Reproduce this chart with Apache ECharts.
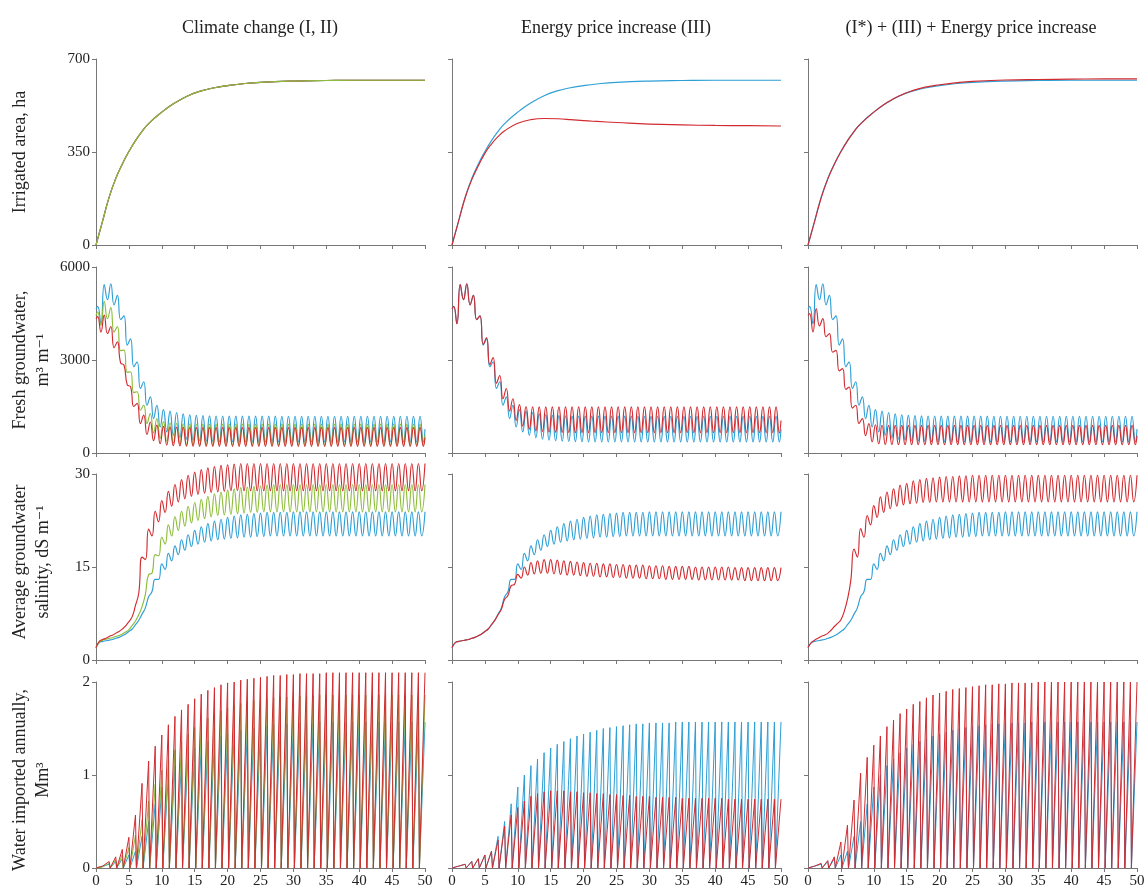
<!DOCTYPE html>
<html><head><meta charset="utf-8">
<script src="https://cdn.jsdelivr.net/npm/echarts/dist/echarts.min.js"></script>
<style>html,body{margin:0;padding:0;background:#fff}#c{width:1148px;height:892px}</style>
</head><body><div id="c"></div>
<script>
// ---------- labels ----------
const colTitles = ['Climate change (I, II)', 'Energy price increase (III)', '(I*) + (III) + Energy price increase'];
const rowNames = ['Irrigated area, ha', 'Fresh groundwater,\nm\u00b3 m\u207b\u00b9', 'Average groundwater\nsalinity, dS m\u207b\u00b9', 'Water imported annually,\nMm\u00b3'];
const yMaxes = [700, 6000, 30, 2];
const yIntervals = [350, 3000, 15, 1];
const xMax = 50, xInterval = 5;

// ---------- row 1: irrigated area (ha) ----------
const areaYears    = [0,1,2,3,4,5,6,7,8,10,12,14,16,18,20,22,25,30,35,40,45,50];
const areaBase     = [0,90,180,250,305,352,393,428,457,500,535,562,580,592,600,606,612,617,619,620,620,620];
const areaClimate  = [0,90,180,250,305,352,393,428,457,500,535,562,580,592,600,606,612,617,619,620,620,620];
const areaEnergy   = [0,90,178,245,298,345,380,408,430,458,472,476,475,472,468,465,461,455,452,450,449,448];
const areaCombined = [0,88,177,248,304,351,392,427,456,500,536,563,582,595,603,609,616,621,623,624,625,625];

// ---------- row 2: fresh groundwater (peaks at year+0.25, troughs at year+0.75) ----------
const fgBaseEnds = [4650, 770];
const fgBaseHi = [4730,5430,5460,5085,4425,3680,2945,2300,1810,1540,
  1400,1350,1306,1263,1235,1215,1205,1198,1194,1192,
  1190,1190,1189,1189,1188,1188,1188,1188,1187,1187,
  1187,1187,1187,1187,1187,1187,1187,1187,1187,1187,
  1187,1187,1187,1187,1187,1187,1187,1187,1187,1187];
const fgBaseLo = [4170,4950,4780,4300,3480,2780,2080,1540,1110,840,
  680,570,490,445,415,395,382,372,366,362,
  360,358,357,356,356,355,355,355,355,355,
  355,355,355,355,355,355,355,355,355,355,
  355,355,355,355,355,355,355,355,355,355];
const fgClimIEnds = [4440, 590];
const fgClimIHi = [4550,4890,4690,4080,3320,2620,1975,1545,1275,1110,
  1010,975,955,945,940,935,932,930,930,930,
  930,930,930,930,930,930,930,930,930,930,
  930,930,930,930,930,930,930,930,930,930,
  930,930,930,930,930,930,930,930,930,930];
const fgClimILo = [4120,4330,3900,3300,2600,1950,1380,950,650,480,
  380,320,290,272,262,256,252,250,250,250,
  250,250,250,250,250,250,250,250,250,250,
  250,250,250,250,250,250,250,250,250,250,
  250,250,250,250,250,250,250,250,250,250];
const fgClimIIEnds = [4330, 500];
const fgClimIIHi = [4400,4450,4080,3590,2840,2140,1600,1220,1000,900,
  860,840,830,825,822,820,820,820,820,820,
  820,820,820,820,820,820,820,820,820,820,
  820,820,820,820,820,820,820,820,820,820,
  820,820,820,820,820,820,820,820,820,820];
const fgClimIILo = [3900,3850,3400,2900,2200,1500,950,600,400,300,
  255,235,225,220,218,216,215,215,215,215,
  215,215,215,215,215,215,215,215,215,215,
  215,215,215,215,215,215,215,215,215,215,
  215,215,215,215,215,215,215,215,215,215];
const fgEnergyEnds = [4650, 1050];
const fgEnergyHi = [4730,5430,5460,5085,4425,3720,3080,2500,2080,1750,
  1560,1500,1492,1490,1490,1490,1490,1490,1490,1490,
  1490,1490,1490,1490,1490,1490,1490,1490,1490,1490,
  1490,1490,1490,1490,1490,1490,1490,1490,1490,1490,
  1490,1490,1490,1490,1490,1490,1490,1490,1490,1490];
const fgEnergyLo = [4170,4950,4780,4300,3500,2850,2250,1750,1350,1050,
  870,770,715,690,675,665,660,655,650,650,
  650,650,650,650,650,650,650,650,650,650,
  650,650,650,650,650,650,650,650,650,650,
  650,650,650,650,650,650,650,650,650,650];
const fgCombEnds = [4440, 560];
const fgCombHi = [4495,4656,4333,3850,3312,2720,2130,1540,1110,950,
  910,895,890,890,890,890,890,890,890,890,
  890,890,890,890,890,890,890,890,890,890,
  890,890,890,890,890,890,890,890,890,890,
  890,890,890,890,890,890,890,890,890,890];
const fgCombLo = [3904,4100,3750,3250,2650,2050,1450,950,560,360,
  295,275,268,265,265,265,265,265,265,265,
  265,265,265,265,265,265,265,265,265,265,
  265,265,265,265,265,265,265,265,265,265,
  265,265,265,265,265,265,265,265,265,265];

// ---------- row 3: salinity (troughs at year+0.5, peaks at year+1) ----------
const salStart = 2.0;
const salBaseLo = [2.8,3.1,3.3,3.65,4.2,5.0,6.4,8.4,11.0,13.0,
  14.6,16.0,17.0,17.7,18.3,18.7,19.0,19.2,19.4,19.5,
  19.6,19.7,19.8,19.8,19.9,19.9,20.0,20.0,20.0,20.0,
  20.0,20.0,20.0,20.0,20.0,20.0,20.0,20.0,20.0,20.0,
  20.0,20.0,20.0,20.0,20.0,20.0,20.0,20.0,20.0,20.0];
const salBaseHi = [3.0,3.2,3.5,3.9,4.6,5.7,7.4,10.2,13.0,15.5,
  17.2,18.4,19.4,20.2,20.9,21.5,22.0,22.4,22.7,23.0,
  23.2,23.4,23.5,23.6,23.7,23.8,23.8,23.8,23.8,23.9,
  23.9,23.9,23.9,23.9,23.9,23.9,23.9,23.9,23.9,23.9,
  23.9,23.9,23.9,23.9,23.9,23.9,23.9,23.9,23.9,23.9];
const salClimILo = [2.9,3.35,3.6,3.95,4.5,5.6,7.3,10.6,14.0,16.8,
  18.7,20.0,20.9,21.6,22.1,22.5,22.8,23.1,23.3,23.4,
  23.5,23.6,23.7,23.8,23.8,23.9,23.9,23.9,23.9,23.9,
  23.9,23.9,23.9,23.9,23.9,23.9,23.9,23.9,23.9,23.9,
  23.9,23.9,23.9,23.9,23.9,23.9,23.9,23.9,23.9,23.9];
const salClimIHi = [3.2,3.5,3.8,4.2,4.9,6.3,8.6,13.8,17.0,19.8,
  21.8,23.1,24.0,24.8,25.4,25.9,26.4,26.8,27.1,27.4,
  27.6,27.8,27.9,28.0,28.1,28.2,28.3,28.3,28.3,28.3,
  28.3,28.3,28.3,28.3,28.3,28.3,28.3,28.3,28.3,28.3,
  28.3,28.3,28.3,28.3,28.3,28.3,28.3,28.3,28.3,28.3];
const salClimIILo = [3.0,3.5,4.0,4.6,5.5,7.0,10.8,16.2,20.0,22.3,
  23.8,24.8,25.5,26.0,26.4,26.7,26.9,27.0,27.1,27.2,
  27.3,27.3,27.3,27.3,27.3,27.3,27.3,27.3,27.3,27.3,
  27.3,27.3,27.3,27.3,27.3,27.3,27.3,27.3,27.3,27.3,
  27.3,27.3,27.3,27.3,27.3,27.3,27.3,27.3,27.3,27.3];
const salClimIIHi = [3.3,3.8,4.3,5.0,6.2,8.8,16.6,21.1,24.0,25.7,
  27.2,28.3,29.1,29.8,30.3,30.7,31.0,31.2,31.4,31.5,
  31.6,31.7,31.7,31.7,31.7,31.7,31.7,31.7,31.7,31.7,
  31.7,31.7,31.7,31.7,31.7,31.7,31.7,31.7,31.7,31.7,
  31.7,31.7,31.7,31.7,31.7,31.7,31.7,31.7,31.7,31.7];
const salEnergyLo = [2.8,3.1,3.3,3.65,4.2,5.0,6.4,8.2,10.4,12.2,
  13.2,13.7,13.9,14.0,14.0,13.9,13.8,13.7,13.7,13.6,
  13.5,13.5,13.4,13.4,13.3,13.3,13.2,13.2,13.2,13.1,
  13.1,13.1,13.0,13.0,13.0,13.0,13.0,12.9,12.9,12.9,
  12.9,12.9,12.9,12.9,12.8,12.8,12.8,12.8,12.8,12.8];
const salEnergyHi = [3.0,3.2,3.5,3.9,4.6,5.7,7.3,9.8,12.0,13.8,
  15.0,15.7,16.0,16.2,16.2,16.1,16.0,15.9,15.8,15.7,
  15.6,15.6,15.5,15.5,15.4,15.4,15.3,15.3,15.3,15.2,
  15.2,15.2,15.1,15.1,15.1,15.1,15.0,15.0,15.0,15.0,
  15.0,15.0,14.9,14.9,14.9,14.9,14.9,14.9,14.9,14.9];
const salCombLo = [2.8,3.5,4.0,4.8,5.9,7.8,12.8,16.6,19.8,21.8,
  23.0,23.8,24.4,24.8,25.0,25.2,25.3,25.4,25.4,25.5,
  25.5,25.5,25.5,25.5,25.5,25.5,25.5,25.5,25.5,25.5,
  25.5,25.5,25.5,25.5,25.5,25.5,25.5,25.5,25.5,25.5,
  25.5,25.5,25.5,25.5,25.5,25.5,25.5,25.5,25.5,25.5];
const salCombHi = [3.2,3.8,4.3,5.4,6.5,9.8,17.9,21.2,23.3,24.9,
  26.3,27.1,27.6,28.2,28.5,28.9,29.1,29.3,29.4,29.5,
  29.6,29.6,29.7,29.7,29.8,29.8,29.8,29.8,29.8,29.8,
  29.8,29.8,29.8,29.8,29.8,29.8,29.8,29.8,29.8,29.8,
  29.8,29.8,29.8,29.8,29.8,29.8,29.8,29.8,29.8,29.8];

// ---------- row 4: water imported (annual peak, years 1..50) ----------
const wiBase = [0.02,0.04,0.07,0.10,0.14,0.18,0.34,0.50,0.69,0.87,
  1.00,1.10,1.17,1.24,1.29,1.33,1.36,1.39,1.42,1.44,
  1.46,1.48,1.50,1.51,1.52,1.53,1.54,1.55,1.55,1.56,
  1.56,1.56,1.56,1.57,1.57,1.57,1.57,1.57,1.57,1.57,
  1.57,1.57,1.57,1.57,1.57,1.57,1.57,1.57,1.57,1.57];
const wiClimI = [0.01,0.05,0.09,0.14,0.22,0.35,0.52,0.72,0.90,1.05,
  1.17,1.27,1.36,1.44,1.51,1.56,1.61,1.65,1.69,1.72,
  1.75,1.77,1.79,1.80,1.81,1.82,1.83,1.84,1.84,1.85,
  1.85,1.85,1.85,1.86,1.86,1.86,1.86,1.86,1.86,1.86,
  1.86,1.86,1.86,1.86,1.86,1.86,1.86,1.86,1.86,1.86];
const wiClimII = [0.02,0.07,0.12,0.20,0.33,0.57,0.91,1.15,1.31,1.43,
  1.54,1.63,1.70,1.76,1.82,1.87,1.91,1.94,1.97,1.99,
  2.00,2.02,2.03,2.04,2.05,2.06,2.07,2.07,2.08,2.08,
  2.09,2.09,2.09,2.09,2.10,2.10,2.10,2.10,2.10,2.10,
  2.10,2.10,2.10,2.10,2.10,2.10,2.10,2.10,2.10,2.10];
const wiEnergy = [0.02,0.04,0.07,0.10,0.14,0.18,0.30,0.45,0.57,0.65,
  0.72,0.77,0.80,0.82,0.83,0.83,0.83,0.82,0.82,0.81,
  0.81,0.80,0.80,0.79,0.79,0.78,0.78,0.77,0.77,0.77,
  0.76,0.76,0.76,0.76,0.75,0.75,0.75,0.75,0.75,0.75,
  0.75,0.74,0.74,0.74,0.74,0.74,0.74,0.74,0.74,0.74];
const wiComb = [0.02,0.05,0.08,0.12,0.28,0.46,0.73,1.02,1.19,1.32,
  1.42,1.52,1.59,1.66,1.71,1.76,1.79,1.83,1.86,1.88,
  1.90,1.92,1.93,1.94,1.95,1.96,1.97,1.97,1.98,1.98,
  1.99,1.99,1.99,1.99,2.00,2.00,2.00,2.00,2.00,2.00,
  2.00,2.00,2.00,2.00,2.00,2.00,2.00,2.00,2.00,2.00];

// ---------- styling ----------
const BLUE = '#2d9fd5', RED = '#d12b30', GREEN = '#8dbd3b';
const AXIS = '#777';
const FONT = "'Liberation Serif','DejaVu Serif',serif";
const gridLefts = [96, 452, 808];
const gridTops = [59, 267, 474, 682];
const GW = 329, GH = 186;

// ---------- builders (use only the arrays above) ----------
function pairs(xs, ys) { return xs.map((x, i) => [x, ys[i]]); }
function fgPoints(ends, hi, lo) {
  const p = [[0, ends[0]]];
  for (let k = 0; k < hi.length; k++) { p.push([k + 0.25, hi[k]]); p.push([k + 0.75, lo[k]]); }
  p.push([50, ends[1]]);
  return p;
}
function salPoints(lo, hi) {
  const p = [[0, salStart]];
  for (let k = 0; k < lo.length; k++) { p.push([k + 0.5, lo[k]]); p.push([k + 1, hi[k]]); }
  return p;
}
function teeth(peaks) {
  const p = [[0, 0], [0.15, 0]];
  for (let k = 0; k < peaks.length; k++) {
    p.push([k + 1, peaks[k]]);
    if (k < peaks.length - 1) { p.push([k + 1.15, 0]); }
  }
  return p;
}

const grids = [], xAxes = [], yAxes = [], series = [];
let gi = 0;
for (let r = 0; r < 4; r++) {
  for (let c = 0; c < 3; c++) {
    grids.push({ left: gridLefts[c], top: gridTops[r], width: GW, height: GH });
    xAxes.push({
      gridIndex: gi, type: 'value', min: 0, max: xMax, interval: xInterval,
      axisLine: { show: true, lineStyle: { color: AXIS, width: 1 } },
      axisTick: { show: true, length: 4, lineStyle: { color: AXIS } },
      splitLine: { show: false },
      axisLabel: { show: r === 3, color: '#222', fontFamily: FONT, fontSize: 15, margin: 6, formatter: v => String(v) }
    });
    yAxes.push({
      gridIndex: gi, type: 'value', min: 0, max: yMaxes[r], interval: yIntervals[r],
      axisLine: { show: true, lineStyle: { color: AXIS, width: 1 } },
      axisTick: { show: true, length: 4, lineStyle: { color: AXIS } },
      splitLine: { show: false },
      axisLabel: { show: c === 0, color: '#222', fontFamily: FONT, fontSize: 15, margin: 6, formatter: v => String(v) }
    });
    gi++;
  }
}
function add(idx, data, color, smooth, w) {
  series.push({
    type: 'line', xAxisIndex: idx, yAxisIndex: idx, data: data, showSymbol: false, symbol: 'none',
    smooth: smooth, clip: false, lineStyle: { color: color, width: w || 1.15 }, silent: true, z: 2 + series.length
  });
}
// row 1
add(0, pairs(areaYears, areaBase), BLUE, true);
add(0, pairs(areaYears, areaClimate), RED, true);
add(0, pairs(areaYears, areaClimate), GREEN, true);
add(1, pairs(areaYears, areaBase), BLUE, true);
add(1, pairs(areaYears, areaEnergy), RED, true);
add(2, pairs(areaYears, areaBase), BLUE, true);
add(2, pairs(areaYears, areaCombined), RED, true);
// row 2
add(3, fgPoints(fgBaseEnds, fgBaseHi, fgBaseLo), BLUE, 0.5);
add(3, fgPoints(fgClimIEnds, fgClimIHi, fgClimILo), GREEN, 0.5);
add(3, fgPoints(fgClimIIEnds, fgClimIIHi, fgClimIILo), RED, 0.5);
add(4, fgPoints(fgBaseEnds, fgBaseHi, fgBaseLo), BLUE, 0.5);
add(4, fgPoints(fgEnergyEnds, fgEnergyHi, fgEnergyLo), RED, 0.5);
add(5, fgPoints(fgBaseEnds, fgBaseHi, fgBaseLo), BLUE, 0.5);
add(5, fgPoints(fgCombEnds, fgCombHi, fgCombLo), RED, 0.5);
// row 3
add(6, salPoints(salBaseLo, salBaseHi), BLUE, 0.5);
add(6, salPoints(salClimILo, salClimIHi), GREEN, 0.5);
add(6, salPoints(salClimIILo, salClimIIHi), RED, 0.5);
add(7, salPoints(salBaseLo, salBaseHi), BLUE, 0.5);
add(7, salPoints(salEnergyLo, salEnergyHi), RED, 0.5);
add(8, salPoints(salBaseLo, salBaseHi), BLUE, 0.5);
add(8, salPoints(salCombLo, salCombHi), RED, 0.5);
// row 4
add(9, teeth(wiBase), BLUE, false, 1);
add(9, teeth(wiClimI), GREEN, false, 1);
add(9, teeth(wiClimII), RED, false, 1);
add(10, teeth(wiBase), BLUE, false, 1);
add(10, teeth(wiEnergy), RED, false, 1);
add(11, teeth(wiBase), BLUE, false, 1);
add(11, teeth(wiComb), RED, false, 1);

// ---------- text: titles and row names ----------
const graphics = [];
const titleCenters = [260, 616, 971];
colTitles.forEach((t, i) => graphics.push({
  type: 'text', x: titleCenters[i], y: 28,
  style: { text: t, font: "18px " + FONT, fill: '#222', align: 'center', verticalAlign: 'middle', textAlign: 'center', textVerticalAlign: 'middle' }
}));
const nameCenters = [[20, 152], [32, 360], [32, 562], [32, 780]];
rowNames.forEach((t, i) => {
  graphics.push({
    type: 'text', x: nameCenters[i][0], y: nameCenters[i][1], rotation: Math.PI / 2,
    style: { text: t, font: "18px " + FONT, fill: '#222', lineHeight: 23, align: 'center', verticalAlign: 'middle', textAlign: 'center', textVerticalAlign: 'middle' }
  });
});

const chart = echarts.init(document.getElementById('c'), null, { renderer: 'canvas' });
chart.setOption({
  animation: false, backgroundColor: '#fff',
  grid: grids, xAxis: xAxes, yAxis: yAxes, series: series, graphic: graphics
});
</script></body></html>
